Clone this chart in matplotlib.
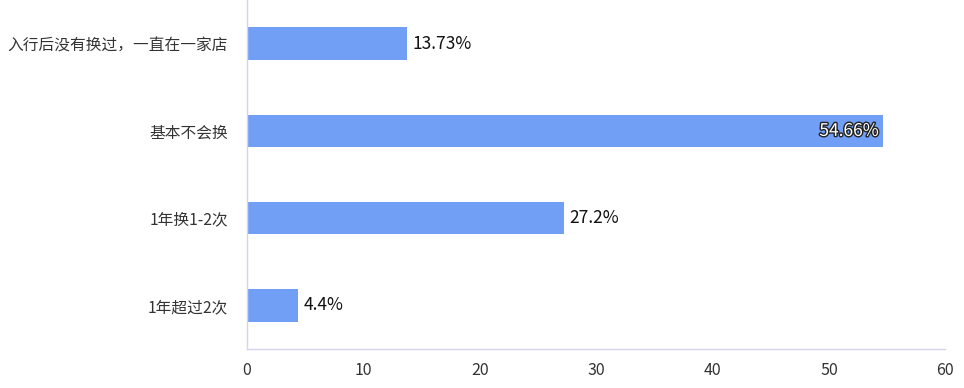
import matplotlib
matplotlib.use("Agg")
import matplotlib.pyplot as plt
import matplotlib.patheffects as pe

plt.rcParams['font.family'] = ['Noto Sans CJK SC', 'DejaVu Sans']

categories = ["入行后没有换过，一直在一家店", "基本不会换", "1年换1-2次", "1年超过2次"]
values = [13.73, 54.66, 27.2, 4.4]
value_labels = ["13.73%", "54.66%", "27.2%", "4.4%"]
xticks = [0, 10, 20, 30, 40, 50, 60]

fig = plt.figure(figsize=(9.64, 3.88), dpi=100)
ax = fig.add_axes([0.2562, 0.1005, 0.7244, 0.8995])

ypos = list(range(len(categories)))
ax.barh(ypos, values, height=0.37, color="#729ff6")
ax.set_ylim(len(categories) - 0.5, -0.5)
ax.set_xlim(0, 60)
ax.set_xticks(xticks)
ax.set_xticklabels([str(t) for t in xticks])
ax.set_yticks(ypos)
ax.set_yticklabels(categories)

for s in ["top", "right"]:
    ax.spines[s].set_visible(False)
for s in ["left", "bottom"]:
    ax.spines[s].set_color("#d4d4ea")
    ax.spines[s].set_linewidth(1.0)

ax.tick_params(axis="both", length=0, colors="#333333")
ax.tick_params(axis="x", pad=9, labelsize=11.5)
ax.tick_params(axis="y", pad=13.5, labelsize=11.3)

for i, (v, lab) in enumerate(zip(values, value_labels)):
    if v > 50:
        ax.text(v - 0.4, i, lab, ha="right", va="center", fontsize=12.5, color="white",
                path_effects=[pe.withStroke(linewidth=2, foreground="#222222")])
    else:
        ax.text(v + 0.5, i, lab, ha="left", va="center", fontsize=12.5, color="#111111")

fig.savefig("out.png", dpi=100)
